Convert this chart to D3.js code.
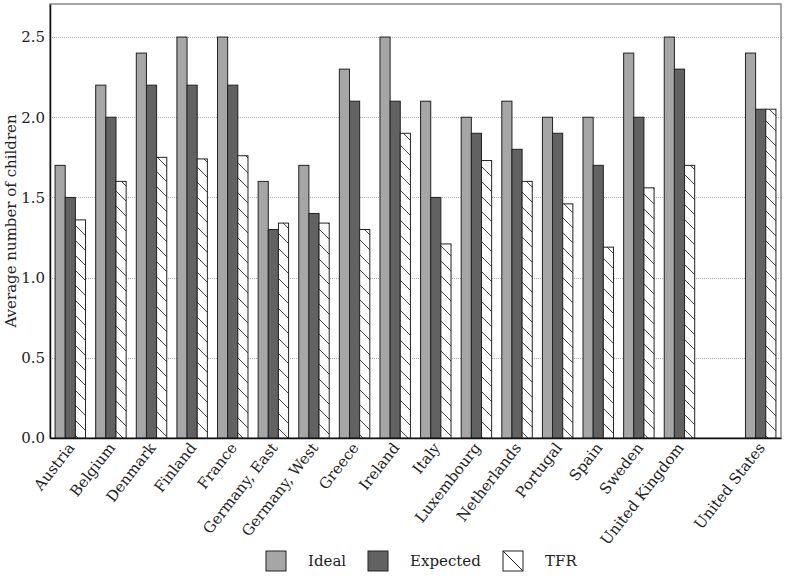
<!DOCTYPE html>
<html><head><meta charset="utf-8">
<script src="https://cdn.jsdelivr.net/npm/d3@7"></script>
<style>body{margin:0;background:#fff}svg{display:block}text{font-family:"DejaVu Serif",serif;fill:#222}</style>
</head><body>
<svg id="c" width="787" height="576"></svg>
<script>
const categories = ["Austria","Belgium","Denmark","Finland","France","Germany, East","Germany, West","Greece","Ireland","Italy","Luxembourg","Netherlands","Portugal","Spain","Sweden","United Kingdom","","United States"];
const seriesNames = ["Ideal","Expected","TFR"];
const ideal    = [1.7,2.2,2.4,2.5,2.5,1.6,1.7,2.3,2.5,2.1,2.0,2.1,2.0,2.0,2.4,2.5,null,2.4];
const expected = [1.5,2.0,2.2,2.2,2.2,1.3,1.4,2.1,2.1,1.5,1.9,1.8,1.9,1.7,2.0,2.3,null,2.05];
const tfr      = [1.36,1.6,1.75,1.74,1.76,1.34,1.34,1.3,1.9,1.21,1.73,1.6,1.46,1.19,1.56,1.7,null,2.05];
const yTicks = [0,0.5,1.0,1.5,2.0,2.5];

const svg = d3.select("#c");
const m = {l:50, r:6, t:4, b:138};
const W = 787, H = 576;
const x0 = d3.scaleBand().domain(d3.range(categories.length)).range([m.l, W-m.r]).paddingInner(0.25).paddingOuter(0.125);
const x1 = d3.scaleBand().domain(seriesNames).range([0, x0.bandwidth()]);
const y = d3.scaleLinear().domain([0,2.706]).range([H-m.b, m.t]);

const defs = svg.append("defs");
const pat = defs.append("pattern").attr("id","hatch").attr("patternUnits","userSpaceOnUse")
  .attr("width",15).attr("height",15);
pat.append("rect").attr("width",15).attr("height",15).attr("fill","#fff");
pat.append("path").attr("d","M0,0 L15,15 M-15,0 L0,15 M0,-15 L15,0 M15,0 L30,15 M0,15 L15,30").attr("stroke","#444").attr("stroke-width",1);

const fills = {Ideal:"#a6a6a6", Expected:"#626262", TFR:"url(#hatch)"};
const vals = {Ideal:ideal, Expected:expected, TFR:tfr};

// frame
svg.append("rect").attr("x",m.l).attr("y",m.t).attr("width",W-m.r-m.l).attr("height",H-m.b-m.t)
  .attr("fill","none").attr("stroke","#888").attr("stroke-width",1.5);

// grid
svg.append("g").selectAll("line").data(yTicks.filter(d=>d>0)).join("line")
  .attr("x1",m.l).attr("x2",W-m.r).attr("y1",d=>Math.round(y(d))+0.5).attr("y2",d=>Math.round(y(d))+0.5)
  .attr("stroke","#aaa").attr("stroke-dasharray","1,1");

// bars
seriesNames.forEach(s=>{
  svg.append("g").selectAll("rect").data(vals[s].map((v,i)=>({v,i})).filter(d=>d.v!=null)).join("rect")
    .attr("x",d=>x0(d.i)+x1(s)).attr("width",x1.bandwidth())
    .attr("y",d=>y(d.v)).attr("height",d=>y(0)-y(d.v))
    .attr("fill",fills[s]).attr("stroke","#222").attr("stroke-width",1);
});

// y axis
const ya = svg.append("g").attr("transform",`translate(${m.l},0)`)
  .call(d3.axisLeft(y).tickValues(yTicks).tickFormat(d3.format(".1f")).tickSize(0).tickPadding(5));
ya.select(".domain").attr("stroke","#111").attr("stroke-width",1.5);
ya.selectAll("text").style("font-family","DejaVu Serif").style("font-size","15px").attr("fill","#222");

// x axis
const xa = svg.append("g").attr("transform",`translate(0,${H-m.b})`)
  .call(d3.axisBottom(x0).tickFormat(i=>categories[i]).tickSize(0).tickPadding(0));
xa.select(".domain").attr("stroke","#111").attr("stroke-width",1.5);
xa.selectAll(".tick text").style("font-family","DejaVu Serif").style("font-size","15px").attr("fill","#222")
  .attr("text-anchor","end").attr("dy",0).attr("y",0)
  .attr("transform","translate(5,10) rotate(-52)");

// y label
svg.append("text").attr("transform",`translate(16,${(m.t+H-m.b)/2}) rotate(-90)`)
  .attr("text-anchor","middle").style("font-size","15px").text("Average number of children");

// legend
const leg = [{s:"Ideal",x:266,tx:308},{s:"Expected",x:368,tx:410},{s:"TFR",x:503,tx:545}];
const lg = svg.append("g");
leg.forEach(l=>{
  lg.append("rect").attr("x",l.x).attr("y",551).attr("width",20).attr("height",20)
    .attr("fill",l.s==="TFR"?"#fff":fills[l.s]).attr("stroke","#222");
  if(l.s==="TFR") lg.append("line").attr("x1",l.x).attr("y1",551).attr("x2",l.x+20).attr("y2",571).attr("stroke","#222");
  lg.append("text").attr("x",l.tx).attr("y",566).style("font-size","15px").text(l.s);
});
</script>
</body></html>
